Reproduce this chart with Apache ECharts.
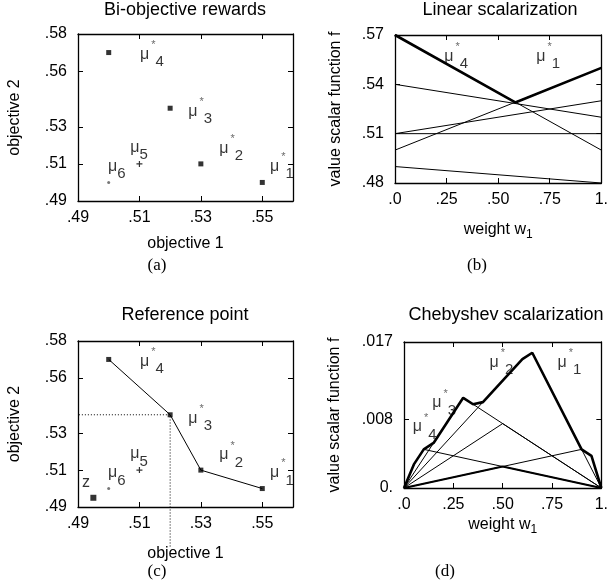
<!DOCTYPE html>
<html><head><meta charset="utf-8">
<script src="https://cdn.jsdelivr.net/npm/echarts@6/dist/echarts.min.js"></script>
<style>html,body{margin:0;padding:0;background:#fff}#c{width:611px;height:585px}</style>
</head><body><div id="c"></div>
<script>
// ---------- data ----------
const armNames = ['1','2','3','4','5','6'];
const objective1 = [0.55, 0.53, 0.52, 0.50, 0.51, 0.50];
const objective2 = [0.50, 0.51, 0.54, 0.57, 0.51, 0.50];
const refPoint = [0.495, 0.495];
const objXTicks = [0.49, 0.51, 0.53, 0.55];
const objXTickLabels = ['.49', '.51', '.53', '.55'];
const objYTicks = [0.49, 0.51, 0.53, 0.56, 0.58];
const objYTickLabels = ['.49', '.51', '.53', '.56', '.58'];
// linear scalarization: value at w1=0 and w1=1 for each arm
const linAtW0 = [0.50, 0.51, 0.54, 0.57, 0.51, 0.49];
const linAtW1 = [0.55, 0.53, 0.52, 0.50, 0.51, 0.48];
const linEnvelope = [[0, 0.57], [0.583, 0.529], [1, 0.55]];
const wTicks = [0, 0.25, 0.5, 0.75, 1];
const wTickLabels = ['.0', '.25', '.50', '.75', '1.'];
const linYTicks = [0.48, 0.51, 0.54, 0.57];
const linYTickLabels = ['.48', '.51', '.54', '.57'];
const chebArm1 = [[0, 0], [0.05, 0.00275], [0.1, 0.0045], [1, 0]];
const chebArm2 = [[0, 0], [0.3, 0.0105], [1, 0]];
const chebArm3 = [[0, 0], [0.6, 0.015], [0.65, 0.01575], [1, 0]];
const chebArm4 = [[0, 0], [0.9, 0.0045], [0.95, 0.00375], [1, 0]];
const chebArm5 = [[0, 0], [0.5, 0.0075], [1, 0]];
const chebArm6 = [[0, 0], [0.5, 0.0025], [1, 0]];
const chebEnvelope = [[0, 0], [0.05, 0.00275], [0.1, 0.0045], [0.15, 0.00525], [0.3, 0.0105], [0.35, 0.00975],
  [0.4, 0.01], [0.6, 0.015], [0.65, 0.01575], [0.9, 0.0045], [0.95, 0.00375], [1, 0]];
const chebYTicks = [0, 0.008, 0.017];
const chebYTickLabels = ['0.', '.008', '.017'];
// annotation anchors (data coords)
const objLabelAnchors = [[0.5525, 0.5085], [0.5360, 0.5182], [0.5259, 0.5382], [0.5102, 0.5689], [0.5070, 0.5187], [0.4998, 0.5084]];
const zLabelAnchor = [0.4913, 0.5035];
const refLineEnds = [0.4727, 0.4677];
const linLabelArms = [3, 0];
const linLabelAnchors = [[0.239, 0.5570], [0.685, 0.5570]];
const chebLabelArms = [3, 2, 1, 0];
const chebLabelAnchors = [[0.044, 0.0071], [0.143, 0.0099], [0.433, 0.0146], [0.778, 0.0146]];

// ---------- helpers ----------
const FONT = '"Liberation Sans", Arial, Helvetica, sans-serif';
const SERIF = '"Liberation Serif", "Times New Roman", serif';
const rich = {
  m: { fontFamily: FONT, fontSize: 16, color: '#000', verticalAlign: 'middle', lineHeight: 30 },
  st: { fontFamily: FONT, fontSize: 11, color: '#444', verticalAlign: 'top', lineHeight: 12, padding: [0, 0, 0, 2] },
  sb: { fontFamily: FONT, fontSize: 15, color: '#000', verticalAlign: 'bottom', lineHeight: 15, padding: [0, 0, 0, 0] },
  sb2: { fontFamily: FONT, fontSize: 15, color: '#000', verticalAlign: 'bottom', lineHeight: 20 }
};
function muText(i, starred) {
  return starred ? '{m|μ}{st|*}{sb|' + armNames[i] + '}' : '{m|μ}{sb2|' + armNames[i] + '}';
}
function fmtFrom(ticks, labels) {
  return function (v) {
    let best = 0;
    for (let k = 1; k < ticks.length; k++) if (Math.abs(ticks[k] - v) < Math.abs(ticks[best] - v)) best = k;
    return labels[best];
  };
}
const axisLineStyle = { color: '#000', width: 1.3 };
function mainAxis(gridIndex, min, max, ticks, labels, name, nameGap, labelMargin) {
  return {
    type: 'value', gridIndex, min, max,
    axisLine: { show: true, onZero: false, lineStyle: axisLineStyle },
    axisTick: { show: true, inside: true, length: 5, customValues: ticks, lineStyle: { color: '#000', width: 1 } },
    axisLabel: { show: true, customValues: ticks, formatter: fmtFrom(ticks, labels), color: '#000', fontFamily: FONT, fontSize: 16, margin: labelMargin },
    splitLine: { show: false },
    name, nameLocation: 'middle', nameGap,
    nameTextStyle: { color: '#000', fontFamily: FONT, fontSize: 16, rich: { sub: { fontFamily: FONT, fontSize: 12, verticalAlign: 'bottom', lineHeight: 14, color: '#000' }, n: { fontFamily: FONT, fontSize: 16, lineHeight: 22, color: '#000' } } }
  };
}
function mirrorAxis(gridIndex, min, max, ticks, position) {
  return {
    type: 'value', gridIndex, min, max, position,
    axisLine: { show: true, onZero: false, lineStyle: axisLineStyle },
    axisTick: { show: true, inside: true, length: 5, customValues: ticks, lineStyle: { color: '#000', width: 1 } },
    axisLabel: { show: false }, splitLine: { show: false }
  };
}
function lineSeries(xi, yi, data, width, extra) {
  return Object.assign({ type: 'line', xAxisIndex: xi, yAxisIndex: yi, data, symbol: 'none', animation: false,
    lineStyle: { color: '#000', width }, z: 3 }, extra || {});
}
function labelSeries(xi, yi, items) {
  return { type: 'scatter', xAxisIndex: xi, yAxisIndex: yi, symbolSize: 0, animation: false, silent: true, z: 5,
    data: items.map(it => ({ value: it.pos, label: { show: true, position: [0, 0], align: 'left', verticalAlign: 'middle', formatter: it.text, rich, fontFamily: FONT, fontSize: 16, color: '#000' } })) };
}
const plusPath = 'path://M2,0h1v2h2v1h-2v2h-1v-2h-2v-1h2z';
function pointSeries(xi, yi) {
  const big = [0, 1, 2, 3].map(i => [objective1[i], objective2[i]]);
  return [
    { type: 'scatter', xAxisIndex: xi, yAxisIndex: yi, data: big, symbol: 'rect', symbolSize: 5, itemStyle: { color: '#000' }, animation: false, z: 4 },
    { type: 'scatter', xAxisIndex: xi, yAxisIndex: yi, data: [[objective1[4], objective2[4]]], symbol: plusPath, symbolSize: 6, itemStyle: { color: '#000' }, animation: false, z: 4 },
    { type: 'scatter', xAxisIndex: xi, yAxisIndex: yi, data: [[objective1[5], objective2[5]]], symbol: 'circle', symbolSize: 3, itemStyle: { color: '#555' }, animation: false, z: 4 }
  ];
}
function objLabels() {
  return armNames.map((n, i) => ({ pos: objLabelAnchors[i], text: muText(i, i < 4) }));
}

// ---------- layout ----------
const grids = [
  { left: 78, top: 34, width: 215, height: 167 },
  { left: 395, top: 35, width: 211, height: 148 },
  { left: 78, top: 341, width: 215, height: 166 },
  { left: 404, top: 342, width: 202, height: 146 }
];
const objName1 = 'objective 1', objName2 = 'objective 2';
const wName = '{n|weight w}{sub|1}';
const fName = 'value scalar function f';

const xAxes = [
  mainAxis(0, 0.49, 0.56, objXTicks, objXTickLabels, objName1, 35, 9),
  mirrorAxis(0, 0.49, 0.56, objXTicks, 'top'),
  mainAxis(1, 0, 1, wTicks, wTickLabels, wName, 36, 9),
  mirrorAxis(1, 0, 1, wTicks, 'top'),
  mainAxis(2, 0.49, 0.56, objXTicks, objXTickLabels, objName1, 39, 9),
  mirrorAxis(2, 0.49, 0.56, objXTicks, 'top'),
  mainAxis(3, 0, 1, wTicks, wTickLabels, wName, 26, 9),
  mirrorAxis(3, 0, 1, wTicks, 'top')
];
const yAxes = [
  mainAxis(0, 0.49, 0.58, objYTicks, objYTickLabels, objName2, 55, 11),
  mirrorAxis(0, 0.49, 0.58, objYTicks, 'right'),
  mainAxis(1, 0.48, 0.57, linYTicks, linYTickLabels, fName, 51, 11),
  mirrorAxis(1, 0.48, 0.57, linYTicks, 'right'),
  mainAxis(2, 0.49, 0.58, objYTicks, objYTickLabels, objName2, 55, 11),
  mirrorAxis(2, 0.49, 0.58, objYTicks, 'right'),
  mainAxis(3, 0, 0.017, chebYTicks, chebYTickLabels, fName, 61, 11),
  mirrorAxis(3, 0, 0.017, chebYTicks, 'right')
];

const series = [];
// (a)
series.push(...pointSeries(0, 0));
series.push(labelSeries(0, 0, objLabels()));
// (b)
armNames.forEach((n, i) => series.push(lineSeries(2, 2, [[0, linAtW0[i]], [1, linAtW1[i]]], 1)));
series.push(lineSeries(2, 2, linEnvelope, 2.6, { z: 4 }));
series.push(labelSeries(2, 2, linLabelArms.map((a, k) => ({ pos: linLabelAnchors[k], text: muText(a, true) }))));
// (c)
series.push(lineSeries(4, 4, [3, 2, 1, 0].map(i => [objective1[i], objective2[i]]), 1));
series.push(lineSeries(4, 4, [[refLineEnds[0], objective2[2]], [objective1[2], objective2[2]], [objective1[2], refLineEnds[1]]], 1,
  { clip: false, lineStyle: { color: '#000', width: 1, type: [1, 2] } }));
series.push(...pointSeries(4, 4));
series.push({ type: 'scatter', xAxisIndex: 4, yAxisIndex: 4, data: [refPoint], symbol: 'rect', symbolSize: 6, itemStyle: { color: '#000' }, animation: false, z: 4 });
series.push(labelSeries(4, 4, objLabels().concat([{ pos: zLabelAnchor, text: '{m|z}' }])));
// (d)
[chebArm1, chebArm2, chebArm3, chebArm4, chebArm5].forEach(d => series.push(lineSeries(6, 6, d, 1)));
series.push(lineSeries(6, 6, chebArm6, 2));
series.push(lineSeries(6, 6, chebEnvelope, 2.6, { z: 4 }));
series.push(labelSeries(6, 6, chebLabelArms.map((a, k) => ({ pos: chebLabelAnchors[k], text: muText(a, true) }))));

const tStyle = { color: '#000', fontFamily: FONT, fontSize: 18, fontWeight: 'normal' };
const cStyle = { color: '#000', fontFamily: SERIF, fontSize: 17, fontWeight: 'normal' };
function ttl(text, x, y, st) { return { text, left: x, top: y, textAlign: 'center', textVerticalAlign: 'middle', padding: 0, textStyle: st }; }
const titles = [
  ttl('Bi-objective rewards', 185, 10, tStyle),
  ttl('Linear scalarization', 500, 10, tStyle),
  ttl('Reference point', 185, 315, tStyle),
  ttl('Chebyshev scalarization', 506, 315, tStyle),
  ttl('(a)', 157, 266, cStyle),
  ttl('(b)', 477, 266, cStyle),
  ttl('(c)', 157, 572, cStyle),
  ttl('(d)', 445, 572, cStyle)
];

const chart = echarts.init(document.getElementById('c'), null, { renderer: 'canvas' });
chart.setOption({ animation: false, backgroundColor: '#fff', title: titles, grid: grids, xAxis: xAxes, yAxis: yAxes, series });
</script></body></html>
